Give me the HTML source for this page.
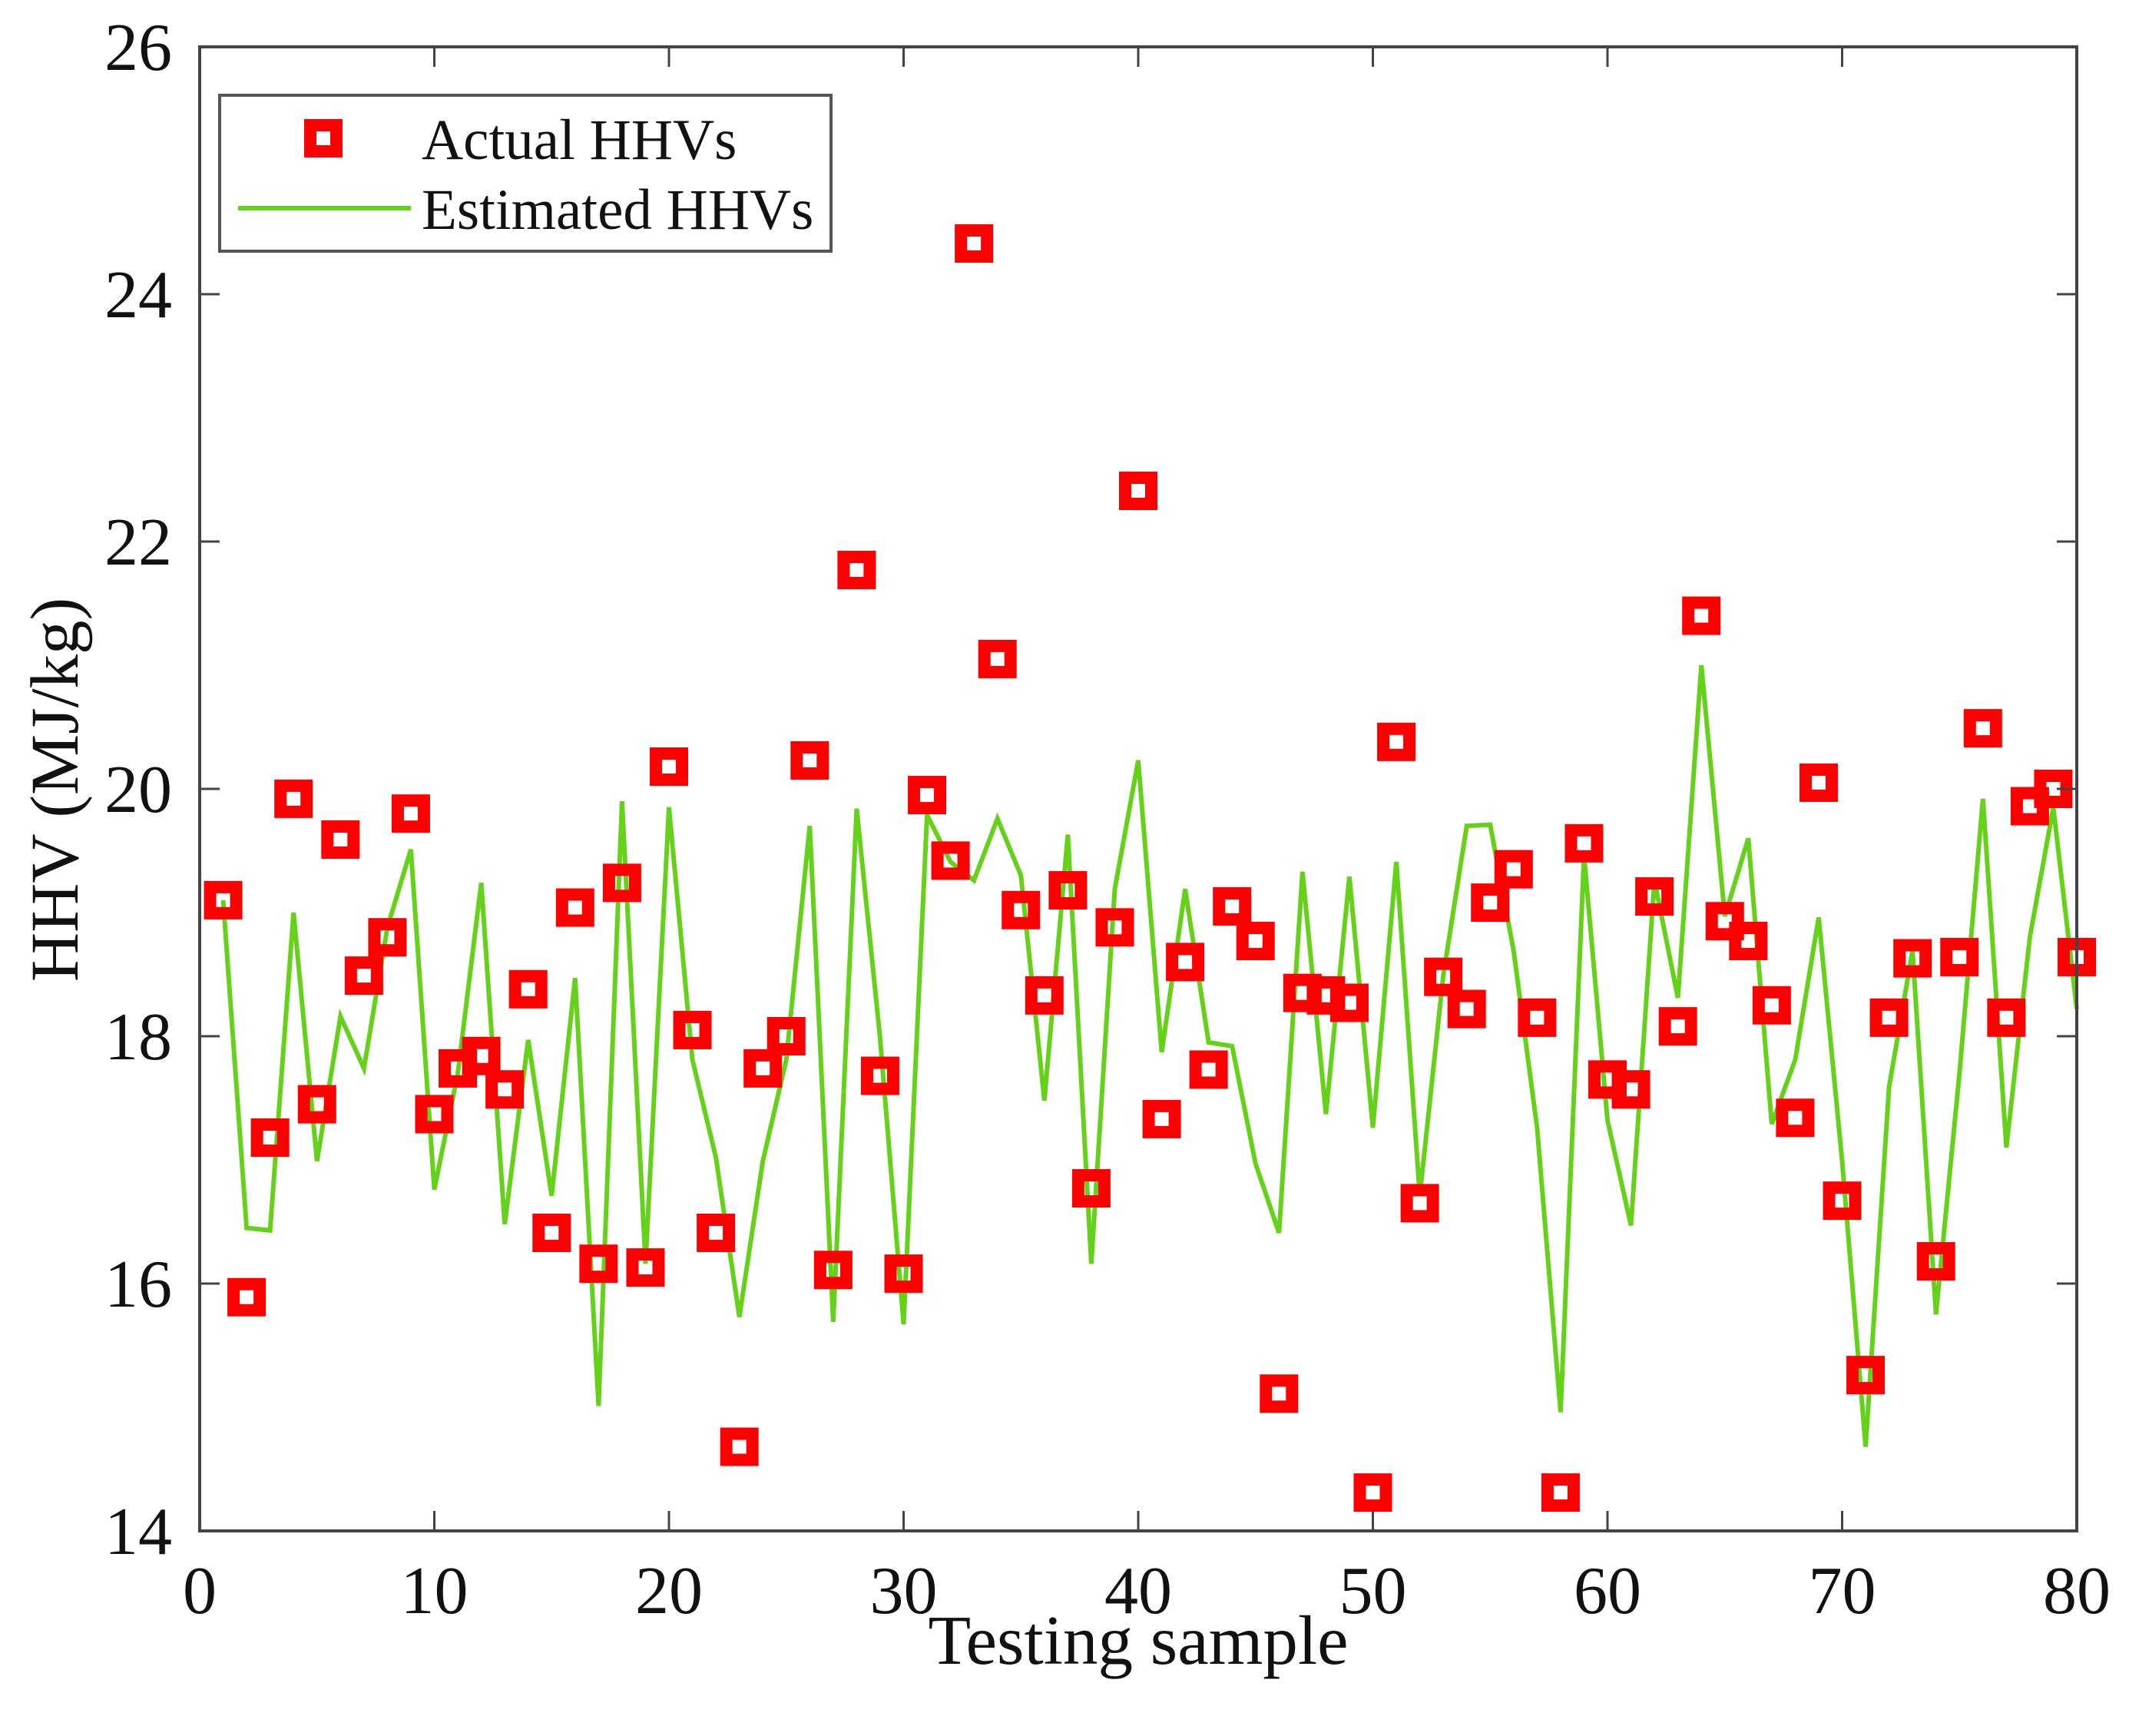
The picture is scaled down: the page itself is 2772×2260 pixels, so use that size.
<!DOCTYPE html>
<html><head><meta charset="utf-8"><style>
html,body{margin:0;padding:0;background:#fff;}
svg{display:block;font-family:"Liberation Serif",serif;}
</style></head><body>
<svg id="chart" width="2772" height="2260" viewBox="0 0 2772 2260" xmlns="http://www.w3.org/2000/svg">
<rect x="0" y="0" width="2772" height="2260" fill="#fff"/>
<g id="marks"></g>
<rect x="260" y="61" width="2444" height="1932" fill="none" stroke="#444" stroke-width="4"/>
<g id="axes"></g>
<text x="72" y="1028" font-size="89" text-anchor="middle" dominant-baseline="central" transform="rotate(-90 72 1028)" fill="#111">HHV (MJ/kg)</text>
<text x="1482" y="2166" font-size="91" text-anchor="middle" fill="#111">Testing sample</text>
<g>
<rect x="286" y="124" width="796" height="203" fill="#fff" stroke="#555" stroke-width="4"/>
<rect x="404" y="163" width="34" height="34" fill="none" stroke="#ff0000" stroke-width="16"/>
<text x="549" y="207" font-size="75" fill="#111">Actual HHVs</text>
<line x1="310" y1="271" x2="535" y2="271" stroke="#66d11a" stroke-width="6"/>
<text x="549" y="298" font-size="75" fill="#111">Estimated HHVs</text>
</g>
</svg>
<script>
const actual = [19.10,15.89,17.18,19.92,17.45,19.59,18.49,18.80,19.80,17.37,17.74,17.84,17.57,18.38,16.41,19.04,16.16,19.24,16.13,20.18,18.05,16.41,14.68,17.74,18.00,20.23,16.11,21.77,17.68,16.08,19.95,19.42,24.41,21.05,19.02,18.33,19.18,16.77,18.88,22.41,17.33,18.60,17.73,19.05,18.77,15.11,18.35,18.33,18.27,14.31,20.38,16.65,18.48,18.22,19.08,19.35,18.15,14.31,19.56,17.65,17.57,19.13,18.08,21.40,18.93,18.77,18.25,17.34,20.05,16.67,15.26,18.15,18.63,16.18,18.64,20.49,18.15,19.86,20.00,18.64];
const estimated = [19.10,16.45,16.43,19.00,16.99,18.16,17.74,18.88,19.51,16.76,17.70,19.24,16.48,17.97,16.71,18.47,15.01,19.90,16.16,19.85,17.81,17.02,15.73,16.99,17.81,19.70,15.69,19.84,17.98,15.67,19.79,19.41,19.26,19.76,19.30,17.48,19.63,16.16,19.19,20.23,17.87,19.19,17.95,17.92,16.97,16.41,19.33,17.37,19.29,17.26,19.41,16.71,18.49,19.70,19.71,18.69,17.26,14.96,19.46,17.32,16.47,19.26,18.31,21.00,18.97,19.60,17.29,17.81,18.96,16.99,14.68,17.59,18.69,15.75,17.70,19.92,17.10,18.80,19.85,18.22];
const xTicks = [0,10,20,30,40,50,60,70,80];
const yTicks = [14,16,18,20,22,24,26];
const NS='http://www.w3.org/2000/svg';
const X0=260,X1=2704,Y0=1993,Y1=61;
function xs(v){return X0+(v-0)/(80-0)*(X1-X0);}
function ys(v){return Y0-(v-14)/(26-14)*(Y0-Y1);}
const marks=document.getElementById('marks');
const axes=document.getElementById('axes');
const line=document.createElementNS(NS,'polyline');


line.setAttribute('points',estimated.map((v,i)=>xs(i+1)+','+ys(v)).join(' '));
line.setAttribute('fill','none');line.setAttribute('stroke','#66d11a');line.setAttribute('stroke-width','6');line.setAttribute('stroke-linejoin','miter');
marks.appendChild(line);
actual.forEach((v,i)=>{
  const r=document.createElementNS(NS,'rect');
  
  
  r.setAttribute('x',xs(i+1)-17);r.setAttribute('y',ys(v)-17);
  r.setAttribute('width',34);r.setAttribute('height',34);
  r.setAttribute('fill','none');r.setAttribute('stroke','#ff0000');r.setAttribute('stroke-width','16');
  marks.appendChild(r);
});
xTicks.forEach(t=>{
  const x=xs(t);
  [[Y0,Y0-26],[Y1,Y1+26]].forEach(p=>{
    const l=document.createElementNS(NS,'line');
    
    
    l.setAttribute('x1',x);l.setAttribute('x2',x);l.setAttribute('y1',p[0]);l.setAttribute('y2',p[1]);
    l.setAttribute('stroke','#444');l.setAttribute('stroke-width','3');
    axes.appendChild(l);
  });
  const tx=document.createElementNS(NS,'text');
  
  
  tx.setAttribute('x',x);tx.setAttribute('y',2100);tx.setAttribute('font-size','88');
  tx.setAttribute('text-anchor','middle');tx.setAttribute('fill','#111');
  tx.textContent=t;axes.appendChild(tx);
});
yTicks.forEach(t=>{
  const y=ys(t);
  [[X0,X0+26],[X1,X1-26]].forEach(p=>{
    const l=document.createElementNS(NS,'line');
    
    
    l.setAttribute('x1',p[0]);l.setAttribute('x2',p[1]);l.setAttribute('y1',y);l.setAttribute('y2',y);
    l.setAttribute('stroke','#444');l.setAttribute('stroke-width','3');
    axes.appendChild(l);
  });
  const tx=document.createElementNS(NS,'text');
  
  
  tx.setAttribute('x',224);tx.setAttribute('y',y+30);tx.setAttribute('font-size','88');
  tx.setAttribute('text-anchor','end');tx.setAttribute('fill','#111');
  tx.textContent=t;axes.appendChild(tx);
});
</script>
</body></html>
